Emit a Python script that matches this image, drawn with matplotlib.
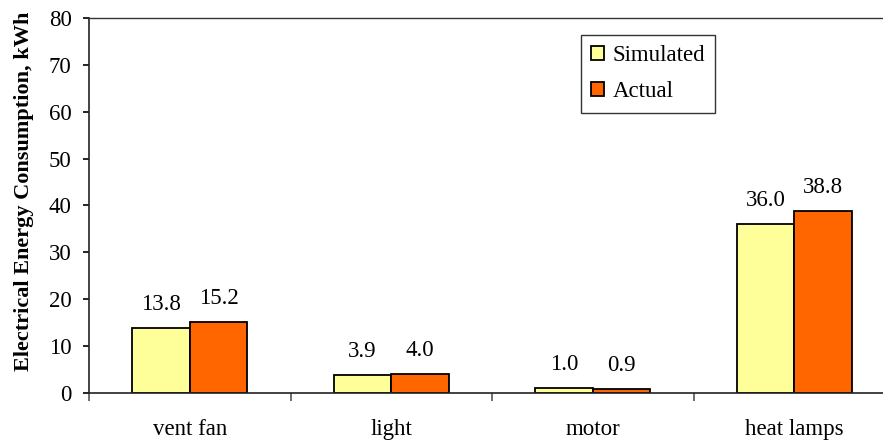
import matplotlib
matplotlib.use("Agg")
import matplotlib.pyplot as plt
import numpy as np
from matplotlib.ticker import FixedLocator, NullFormatter

plt.rcParams['font.family'] = ['Liberation Serif', 'DejaVu Serif']

categories = ["vent fan", "light", "motor", "heat lamps"]
simulated = [13.8, 3.9, 1.0, 36.0]
actual = [15.2, 4.0, 0.9, 38.8]
y_ticks = [0, 10, 20, 30, 40, 50, 60, 70, 80]

FS = 16.5

fig = plt.figure(figsize=(8.83, 4.44), dpi=100)
ax = fig.add_axes([89 / 883, 1 - 393 / 444, 806 / 883, 375 / 444])

x = np.arange(len(categories))
w = 0.285
b1 = ax.bar(x - w / 2, simulated, w, color="#FFFF99", edgecolor="black", linewidth=1.3, label="Simulated")
b2 = ax.bar(x + w / 2, actual, w, color="#FF6600", edgecolor="black", linewidth=1.3, label="Actual")

for bars, vals in ((b1, simulated), (b2, actual)):
    for rect, v in zip(bars, vals):
        ax.annotate(f"{v:.1f}", (rect.get_x() + rect.get_width() / 2, rect.get_height()),
                    xytext=(0, 9.5), textcoords="offset points", ha="center", va="bottom", fontsize=FS)

ax.set_xlim(-0.5, len(categories) - 0.5)
ax.set_ylim(0, 80)
ax.set_yticks(y_ticks)
ax.tick_params(axis="y", direction="out", length=4.5, width=1.2, pad=8, labelsize=FS)

# boundary ticks between groups, labels centred on groups
ax.xaxis.set_major_locator(FixedLocator(np.arange(len(categories) + 1) - 0.5))
ax.xaxis.set_major_formatter(NullFormatter())
ax.xaxis.set_minor_locator(FixedLocator(x))
ax.set_xticklabels(categories, minor=True)
ax.tick_params(axis="x", which="major", direction="out", length=6, width=1.2, color="#555555")
ax.tick_params(axis="x", which="minor", length=0, pad=19, labelsize=FS)

for s in ("left", "bottom"):
    ax.spines[s].set_linewidth(1.2)
    ax.spines[s].set_color("#222222")
ax.spines["top"].set_linewidth(1.0)
ax.spines["top"].set_color("#333333")
ax.spines["right"].set_visible(False)

ax.set_ylabel("Electrical Energy Consumption, kWh", fontsize=16, fontweight="bold")
ax.yaxis.set_label_coords(-(89 - 24) / 806, (393 - 191) / 375)
ax.yaxis.label.set_va("center")

leg = ax.legend(loc="upper left", bbox_to_anchor=((581 - 89) / 806, (393 - 35) / 375),
                fontsize=FS, frameon=True, fancybox=False, edgecolor="black",
                handlelength=0.57, handleheight=0.57, handletextpad=0.35, borderpad=0.45,
                labelspacing=0.66, borderaxespad=0)
leg.get_frame().set_linewidth(1.0)

fig.savefig("out.png", dpi=100)
